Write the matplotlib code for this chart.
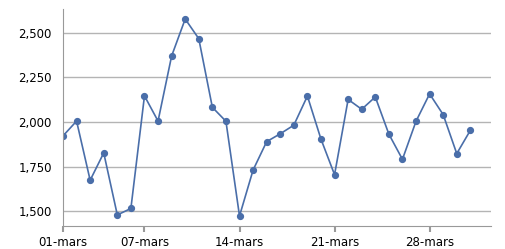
import numpy as np
import pandas as pd
import matplotlib
matplotlib.use('Agg')
import matplotlib.pyplot as plt
import matplotlib.dates as mdates

days = pd.date_range('2021-03-01', '2021-03-31', freq='D')
values = [1922, 2005, 1674, 1827, 1480, 1516, 2146, 2005, 2369, 2576,
          2466, 2082, 2004, 1474, 1731, 1890, 1934, 1982, 2145, 1904,
          1705, 2126, 2071, 2140, 1932, 1791, 2004, 2157, 2041, 1823, 1953]
tick_days = pd.to_datetime(['2021-03-01', '2021-03-07', '2021-03-14', '2021-03-21', '2021-03-28'])
tick_labels = ['01-mars', '07-mars', '14-mars', '21-mars', '28-mars']

plt.rcParams['font.family'] = 'DejaVu Sans'
fig = plt.figure(figsize=(5.05, 2.49), dpi=100)
ax = fig.add_axes([63/505, 1 - 226/249, (490.7 - 63)/505, (226 - 9)/249])

ax.plot(days, values, color='#4a6ea9', lw=1.2, marker='o', ms=4.2)

ax.set_xlim(days[0], days[0] + pd.Timedelta(days=31.5))
ax.set_ylim(1418, 2632)
ax.set_yticks([1500, 1750, 2000, 2250, 2500])
ax.yaxis.set_major_formatter(matplotlib.ticker.StrMethodFormatter('{x:,.0f}'))
ax.set_xticks(tick_days)
ax.set_xticklabels(tick_labels)

ax.grid(axis='y', color='#b4b4b4', lw=1)
ax.set_axisbelow(True)
for s in ['top', 'right']:
    ax.spines[s].set_visible(False)
for s in ['left', 'bottom']:
    ax.spines[s].set_color('#999999')
ax.tick_params(axis='y', length=0, pad=8, labelsize=8.5)
ax.tick_params(axis='x', length=4, width=1.5, color='#999999', pad=3, labelsize=8.5)

fig.savefig('out.png', dpi=100)
